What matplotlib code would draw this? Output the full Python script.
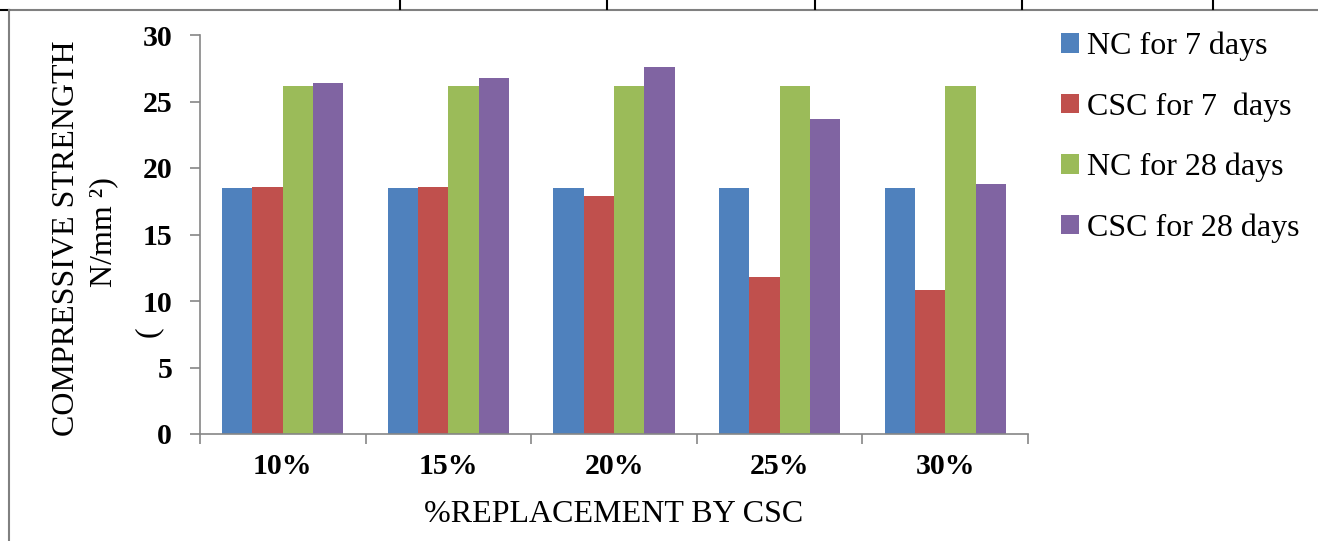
import matplotlib.pyplot as plt
from matplotlib.lines import Line2D
import numpy as np

plt.rcParams['font.family'] = ['Liberation Serif', 'DejaVu Serif']

categories = ['10%', '15%', '20%', '25%', '30%']
nc_7 = [18.5, 18.5, 18.5, 18.5, 18.5]
csc_7 = [18.6, 18.6, 17.9, 11.8, 10.8]
nc_28 = [26.2, 26.2, 26.2, 26.2, 26.2]
csc_28 = [26.4, 26.8, 27.6, 23.7, 18.8]

series = [('NC for 7 days', nc_7, '#4F81BD'),
          ('CSC for 7  days', csc_7, '#C0504D'),
          ('NC for 28 days', nc_28, '#9BBB59'),
          ('CSC for 28 days', csc_28, '#8064A2')]

W, H = 1318, 541
fig = plt.figure(figsize=(W / 100, H / 100), dpi=100)
ax = fig.add_axes([200 / W, 1 - 434 / H, 828 / W, 399 / H])

x = np.arange(len(categories))
bar_width = 0.183
for i, (label, vals, color) in enumerate(series):
    ax.bar(x + (i - 1.5) * bar_width, vals, bar_width, color=color, label=label)

ax.set_xlim(-0.5, len(categories) - 0.5)
ax.set_ylim(0, 30)
ax.set_yticks([0, 5, 10, 15, 20, 25, 30])
ax.set_xticks(x)
ax.set_xticklabels(categories)
ax.set_xticks(np.arange(len(categories) + 1) - 0.5, minor=True)
ax.tick_params(axis='x', which='major', length=0, pad=14)
ax.tick_params(axis='x', which='minor', length=7, width=1.2, color='#868686')
ax.tick_params(axis='y', length=7, width=1.2, color='#868686', pad=13)
for lbl in ax.get_xticklabels() + ax.get_yticklabels():
    lbl.set_fontsize(21.5)
    lbl.set_fontweight('bold')

for side in ['top', 'right']:
    ax.spines[side].set_visible(False)
for side in ['left', 'bottom']:
    ax.spines[side].set_color('#868686')
    ax.spines[side].set_linewidth(1.2)

# axis labels placed like the original document
fig.text(614 / W, 1 - 515 / H, '%REPLACEMENT BY CSC', fontsize=23,
         ha='center', va='center')
fig.text(67 / W, 1 - 238 / H, 'COMPRESSIVE STRENGTH', fontsize=23,
         rotation=90, ha='center', va='center')
fig.text(104 / W, 1 - 232 / H, 'N/mm ²)', fontsize=23,
         rotation=90, ha='center', va='center')
fig.text(148 / W, 1 - 332 / H, '(', fontsize=23,
         rotation=90, ha='center', va='center')

leg = ax.legend(loc='upper left', bbox_to_anchor=(1.025, 1.04), frameon=False,
                fontsize=23, handlelength=0.55, handleheight=0.55,
                handletextpad=0.25, labelspacing=0.97, borderaxespad=0)

# table borders from the source document
fig.add_artist(Line2D([9 / W, 1], [1 - 10 / H, 1 - 10 / H], color='#808080', lw=1.5))
fig.add_artist(Line2D([0, 9 / W], [1 - 10 / H, 1 - 10 / H], color='black', lw=1.5))
fig.add_artist(Line2D([9 / W, 9 / W], [0, 1 - 10 / H], color='#808080', lw=1.5))
for px in [400, 607, 815, 1022, 1213]:
    fig.add_artist(Line2D([px / W, px / W], [1 - 9 / H, 1], color='black', lw=1.5))

plt.savefig('out.png', dpi=100)
